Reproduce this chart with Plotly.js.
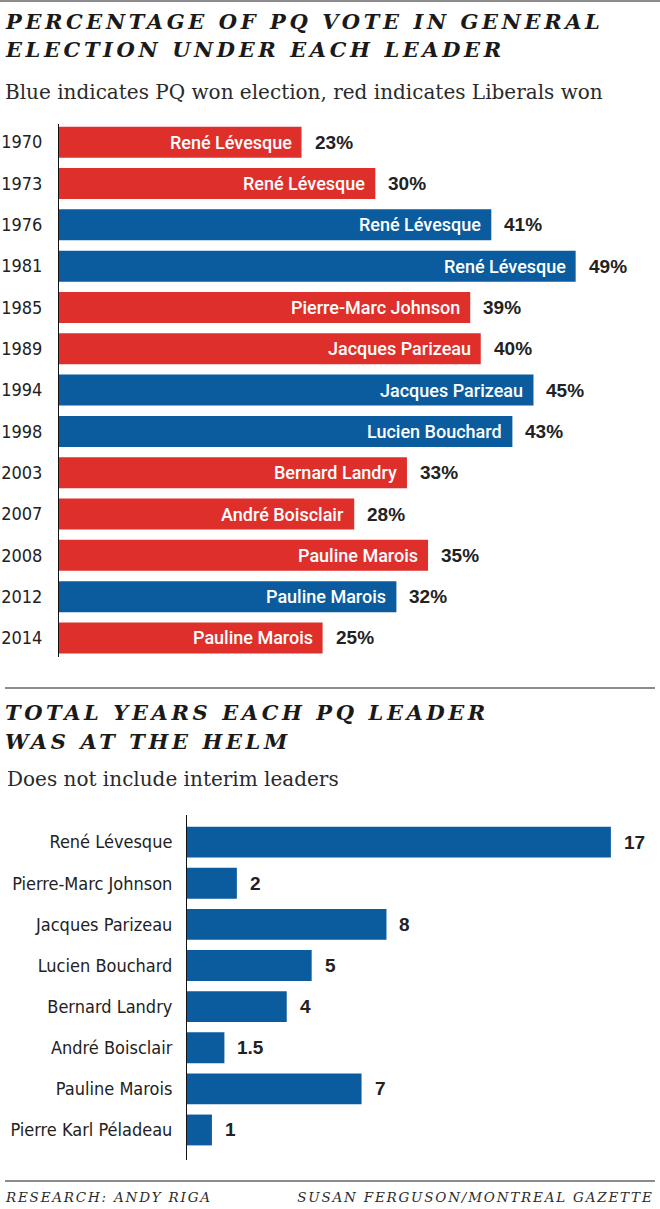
<!DOCTYPE html>
<html>
<head>
<meta charset="utf-8">
<script src="https://cdn.plot.ly/plotly-3.0.1.min.js"></script>
<style>
html,body{margin:0;padding:0;background:#fff;}
#chart{width:660px;height:1209px;}
</style>
</head>
<body>
<div id="chart"></div>
<script>
// ---- Data: chart 1 ----
const years = ["1970","1973","1976","1981","1985","1989","1994","1998","2003","2007","2008","2012","2014"];
const leadersByElection = ["René Lévesque","René Lévesque","René Lévesque","René Lévesque","Pierre-Marc Johnson","Jacques Parizeau","Jacques Parizeau","Lucien Bouchard","Bernard Landry","André Boisclair","Pauline Marois","Pauline Marois","Pauline Marois"];
const votePct = [23,30,41,49,39,40,45,43,33,28,35,32,25];
const winner = ["Liberal","Liberal","PQ","PQ","Liberal","Liberal","PQ","PQ","Liberal","Liberal","Liberal","PQ","Liberal"];

// ---- Data: chart 2 ----
const leaders = ["René Lévesque","Pierre-Marc Johnson","Jacques Parizeau","Lucien Bouchard","Bernard Landry","André Boisclair","Pauline Marois","Pierre Karl Péladeau"];
const yearsAtHelm = [17,2,8,5,4,1.5,7,1];
const helmLabels = ["17","2","8","5","4","1.5","7","1"];

// ---- Styles ----
const RED = "#df2f2b", BLUE = "#0b5c9e";
const NARROW = "DejaVu Sans Condensed, DejaVu Sans, sans-serif";
const INLABEL = "Roboto, DejaVu Sans Condensed, sans-serif";
const BOLD = "Liberation Sans, Arial, sans-serif";
const SERIF = "DejaVu Serif, serif";
const H = 1209;
const py = p => 1 - p / H;

const idx1 = years.map((_, i) => i);
const idx2 = leaders.map((_, i) => i);

const traces = [
  {
    type: "bar", orientation: "h",
    x: votePct, y: idx1,
    marker: {color: winner.map(w => w === "PQ" ? BLUE : RED)},
    width: 0.75, xaxis: "x", yaxis: "y", hoverinfo: "skip"
  },
  {
    type: "bar", orientation: "h",
    x: yearsAtHelm, y: idx2,
    marker: {color: BLUE},
    width: 0.75, xaxis: "x2", yaxis: "y2", hoverinfo: "skip"
  }
];

const annotations = [];
votePct.forEach((v, i) => {
  annotations.push({xref: "x", yref: "y", x: v, y: i, text: leadersByElection[i],
    showarrow: false, xanchor: "right", yanchor: "middle", xshift: -8,
    font: {family: INLABEL, size: 18, color: "#fff", weight: 500}});
  annotations.push({xref: "x", yref: "y", x: v, y: i, text: v + "%",
    showarrow: false, xanchor: "left", yanchor: "middle", xshift: 11,
    font: {family: BOLD, size: 19, color: "#222", weight: "bold"}});
});
yearsAtHelm.forEach((v, i) => {
  annotations.push({xref: "x2", yref: "y2", x: v, y: i, text: helmLabels[i],
    showarrow: false, xanchor: "left", yanchor: "middle", xshift: 11,
    font: {family: BOLD, size: 19, color: "#222", weight: "bold"}});
});

const titleFont = {family: SERIF, size: 21, color: "#1a1a1a", weight: "bold", style: "italic"};
const subFont = {family: SERIF, size: 20, color: "#2a2a2a"};
const footFont = {family: SERIF, size: 13.5, color: "#2a2a2a", style: "italic"};
function paperText(text, x, ypx, font, xanchor) {
  annotations.push({xref: "paper", yref: "paper", x: x, y: py(ypx), text: text,
    showarrow: false, xanchor: xanchor || "left", align: xanchor || "left",
    yanchor: "middle", font: font});
}
paperText("PERCENTAGE OF PQ VOTE IN GENERAL", 3/660, 21, titleFont, "left");
paperText("ELECTION UNDER EACH LEADER", 3/660, 50, titleFont, "left");
paperText("Blue indicates PQ won election, red indicates Liberals won", 3/660, 92, subFont);
paperText("TOTAL YEARS EACH PQ LEADER", 3/660, 712, titleFont, "left");
paperText("WAS AT THE HELM", 3/660, 741, titleFont, "left");
paperText("Does not include interim leaders", 5/660, 779, subFont);
paperText("RESEARCH: ANDY RIGA", 3/660, 1197, footFont, "left");
paperText("SUSAN FERGUSON/MONTREAL GAZETTE", 656/660, 1197, footFont, "right");

const sepLine = (ypx, x0, x1) => ({type: "line", xref: "paper", yref: "paper",
  x0: x0, x1: x1, y0: py(ypx), y1: py(ypx), line: {color: "#8c8c8c", width: 2}});

const layout = {
  width: 660, height: 1209,
  margin: {l: 0, r: 0, t: 0, b: 0},
  paper_bgcolor: "#fff", plot_bgcolor: "#fff",
  showlegend: false, bargap: 0.25,
  xaxis: {domain: [59/660, 1], range: [0, 57], visible: false, fixedrange: true},
  yaxis: {domain: [py(657), py(124)], range: [12.46, -0.44],
    tickmode: "array", tickvals: idx1, ticktext: years,
    showline: true, linecolor: "#111", linewidth: 1, showgrid: false, zeroline: false,
    ticks: "", ticklabelstandoff: 12,
    tickfont: {family: NARROW, size: 18, color: "#222"}, fixedrange: true},
  xaxis2: {domain: [187/660, 1], range: [0, 18.97], visible: false, anchor: "y2", fixedrange: true},
  yaxis2: {domain: [py(1160), py(815)], range: [7.73, -0.66], anchor: "x2",
    tickmode: "array", tickvals: idx2, ticktext: leaders,
    showline: true, linecolor: "#111", linewidth: 1, showgrid: false, zeroline: false,
    ticks: "", ticklabelstandoff: 10,
    tickfont: {family: NARROW, size: 18, color: "#222"}, fixedrange: true},
  annotations: annotations,
  shapes: [sepLine(1, 0, 1), sepLine(688, 5/660, 655/660), sepLine(1181, 5/660, 655/660)]
};

function applySpacing() {
  document.querySelectorAll(".annotation-text").forEach(el => {
    const t = el.textContent;
    if (/^[A-Z :\/]+$/.test(t) && t.length > 8) {
      const isFoot = /RESEARCH|SUSAN/.test(t);
      el.style.letterSpacing = isFoot ? "1.8px" : "3.6px";
    }
  });
}
Plotly.newPlot("chart", traces, layout, {displayModeBar: false, staticPlot: true}).then(gd => {
  applySpacing();
  gd.on("plotly_afterplot", applySpacing);
});
</script>
</body>
</html>
